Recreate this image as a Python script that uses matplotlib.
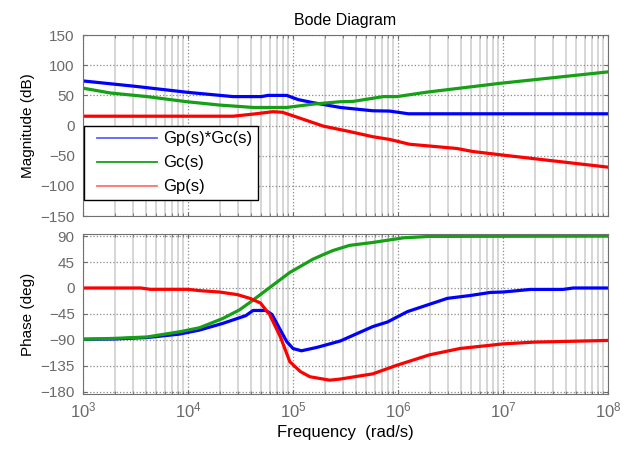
import numpy as np
import matplotlib
matplotlib.use('Agg')
import matplotlib.pyplot as plt
from matplotlib.lines import Line2D
from matplotlib.legend_handler import HandlerLine2D

plt.rcParams['font.family'] = ['Liberation Sans', 'DejaVu Sans']
plt.rcParams['mathtext.fontset'] = 'custom'
plt.rcParams['mathtext.rm'] = 'Liberation Sans'
plt.rcParams['mathtext.it'] = 'Liberation Sans:italic'

# ─── DATA (frequency as log10 exponent) ────────────────────────────────────
# Magnitude (dB)
mag_open_w = [3.0, 3.5, 4.0, 4.43, 4.70, 4.76, 4.94, 5.05, 5.19, 5.45, 5.76, 5.92, 6.10, 7.0, 8.0]
mag_open = [74, 65, 55, 48, 48, 50, 50, 43, 38, 30, 24.5, 24, 19.5, 19.5, 19.5]

mag_gc_w = [3.0, 3.26, 3.61, 3.99, 4.30, 4.62, 4.94, 5.19, 5.45, 5.57, 5.86, 5.99, 6.28, 6.97, 8.0]
mag_gc = [62, 54, 48, 39.5, 34, 30, 30, 35.5, 39.5, 40, 48, 48, 55.5, 70, 89]

mag_gp_w = [3.0, 4.43, 4.62, 4.81, 4.90, 5.07, 5.29, 5.54, 5.76, 5.92, 6.11, 6.56, 6.71, 7.0, 7.35, 8.0]
mag_gp = [15.5, 15.5, 19, 23, 22, 12, -1, -10, -18.5, -23, -31, -38, -43, -49, -56, -69]

# Phase (deg)
ph_open_w = [3.0, 3.29, 3.61, 3.92, 4.11, 4.33, 4.55, 4.62, 4.74, 4.80, 4.88, 4.94, 5.0, 5.08,
             5.23, 5.45, 5.76, 5.90, 6.09, 6.47, 6.69, 6.88, 7.0, 7.26, 7.57, 7.67, 8.0]
ph_open = [-89, -88.5, -86, -80, -73, -61.5, -48, -39, -39, -46, -73, -93, -105, -109,
           -103, -92, -67, -59, -41, -18, -13, -7.7, -7, -2.5, -2.5, 0, 0]

ph_gc_w = [3.0, 3.29, 3.61, 3.92, 4.11, 4.33, 4.49, 4.59, 4.78, 4.97, 5.19, 5.29, 5.38,
           5.54, 5.76, 6.05, 6.30, 8.0]
ph_gc = [-89, -87.5, -85, -76, -69, -53, -38, -25, 1, 27, 50, 58, 65, 74, 79, 87, 89.5, 90]

ph_gp_w = [3.0, 3.55, 3.64, 4.0, 4.11, 4.30, 4.47, 4.59, 4.69, 4.78, 4.88, 4.97, 5.07, 5.16,
           5.35, 5.45, 5.76, 5.99, 6.30, 6.59, 7.0, 7.29, 8.0]
ph_gp = [0, 0, -2.3, -2.3, -4.6, -7, -11.5, -18, -26, -47, -85, -128, -145, -154,
         -160, -158, -149, -134, -116, -105, -97, -94, -91]

labels = ['Gp(s)*Gc(s)', 'Gc(s)', 'Gp(s)']
colors = ['#0000ff', '#15a015', '#ff0000']
legend_colors = ['#6060ff', '#15a015', '#ff7070']


class PaddedLine(HandlerLine2D):
    # MATLAB-style legend: a bit of blank space before each sample line
    def get_xdata(self, legend, xdescent, ydescent, width, height, fontsize):
        x0 = -xdescent + 0.45 * fontsize
        x1 = -xdescent + width
        return np.array([x0, x1]), np.array([x0, x1])


# ─── FIGURE ─────────────────────────────────────────────────────────────────
fig = plt.figure(figsize=(6.25, 4.5), dpi=100)
ax1 = fig.add_axes([0.1328, 0.52, 0.84, 0.402])
ax2 = fig.add_axes([0.1328, 0.1244, 0.84, 0.356])

axis_gray = '#6a6a6a'


def style(ax):
    ax.set_xscale('log')
    ax.set_xlim(1e3, 1e8)
    ax.grid(True, which='minor', axis='x', color='#cfcfcf', ls='-', lw=1.2)
    ax.grid(True, which='major', axis='both', color='#8a8a8a', ls=':', lw=0.9)
    ax.set_axisbelow(True)
    ax.tick_params(which='both', direction='in', top=True, right=True,
                   colors=axis_gray, labelsize=11, length=3, pad=6)
    ax.tick_params(which='minor', length=2)
    for s in ax.spines.values():
        s.set_color('#707070')


for w, m, c in [(mag_open_w, mag_open, colors[0]), (mag_gc_w, mag_gc, colors[1]),
                (mag_gp_w, mag_gp, colors[2])]:
    ax1.plot(10.0 ** np.array(w), m, color=c, lw=2.3)
style(ax1)
ax1.set_ylim(-150, 150)
ax1.set_yticks([-150, -100, -50, 0, 50, 100, 150])
ax1.tick_params(axis='x', which='both', labelbottom=False)
ax1.set_ylabel('Magnitude (dB)', fontsize=11)
ax1.set_title('Bode Diagram', fontsize=11.5, pad=7)

handles = [Line2D([], [], color=c, lw=1.3) for c in legend_colors]
leg = ax1.legend(handles, labels, loc='upper left', bbox_to_anchor=(0.002, 0.5),
                 borderaxespad=0, fontsize=12, handlelength=4.05, handletextpad=0.35,
                 fancybox=False, framealpha=1, edgecolor='black', borderpad=0.35,
                 labelspacing=0.54, handler_map={Line2D: PaddedLine()})
leg.get_frame().set_linewidth(1.0)

for w, p, c in [(ph_open_w, ph_open, colors[0]), (ph_gc_w, ph_gc, colors[1]),
                (ph_gp_w, ph_gp, colors[2])]:
    ax2.plot(10.0 ** np.array(w), p, color=c, lw=2.3)
style(ax2)
ax2.set_ylim(-184, 94)
ax2.set_yticks([-180, -135, -90, -45, 0, 45, 90])
ax2.set_xticks(10.0 ** np.arange(3, 9))
ax2.set_xticklabels([f'$10^{{{k}}}$' for k in range(3, 9)], fontsize=12)
ax2.tick_params(axis='x', pad=5)
ax2.set_ylabel('Phase (deg)', fontsize=11)
ax2.set_xlabel('Frequency  (rad/s)', fontsize=12, labelpad=3)

fig.align_ylabels([ax1, ax2])
fig.savefig('out.png', dpi=100)
